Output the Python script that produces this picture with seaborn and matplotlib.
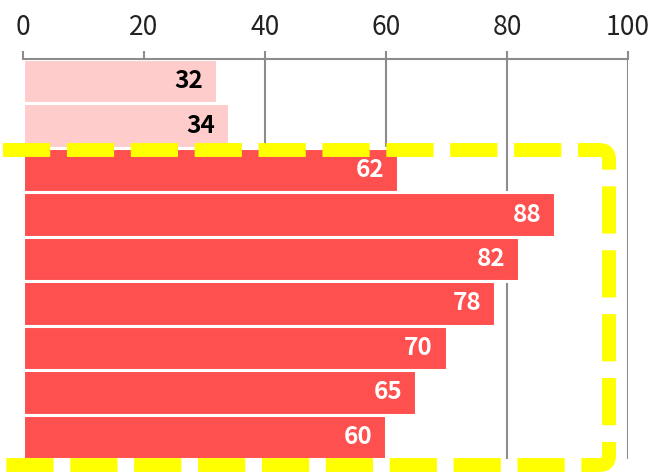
import seaborn as sns
import matplotlib.pyplot as plt
import numpy as np
import pandas as pd
from matplotlib.path import Path
from matplotlib.patches import PathPatch

# chart data (top to bottom)
categories = ["1", "2", "3", "4", "5", "6", "7", "8", "9"]
values = [32, 34, 62, 88, 82, 78, 70, 65, 60]
highlighted = [False, False, True, True, True, True, True, True, True]
x_ticks = [0, 20, 40, 60, 80, 100]

pink = "#FFCCCC"
red = "#FF5050"
colors = [red if h else pink for h in highlighted]
label_colors = ["white" if h else "black" for h in highlighted]

df = pd.DataFrame({"cat": categories, "val": values})

sns.set_theme(style="white")
plt.rcParams["font.family"] = ["Noto Sans CJK JP", "DejaVu Sans"]

fig = plt.figure(figsize=(6.59, 4.73), dpi=100)
ax = fig.add_axes([23 / 659, 14 / 473, 605 / 659, 400 / 473])

sns.barplot(data=df, x="val", y="cat", hue="cat", palette=colors, orient="h",
            width=1.0, saturation=1, legend=False, ax=ax, zorder=2,
            edgecolor="white", linewidth=2.2)

ax.set_xlim(0, 100)
ax.set_ylim(8.5, -0.5)
ax.set_xticks(x_ticks)
ax.xaxis.tick_top()
ax.tick_params(axis="x", top=True, bottom=False, length=6, width=1.5,
               color="#8c8c8c", labelsize=19, labelcolor="#222222", pad=7)
ax.set_yticks([])
ax.set_xlabel("")
ax.set_ylabel("")
ax.grid(axis="x", color="#8c8c8c", linewidth=1.5)
ax.set_axisbelow(True)
for side in ["left", "right", "bottom"]:
    ax.spines[side].set_visible(False)
ax.spines["top"].set_color("#8c8c8c")
ax.spines["top"].set_linewidth(1.5)

# value labels inside bar ends
for i, (v, c) in enumerate(zip(values, label_colors)):
    ax.annotate(str(v), xy=(v, i), xytext=(-10, 0), textcoords="offset points",
                ha="right", va="center", fontsize=17.5, fontweight="bold", color=c)

# yellow dashed highlight frame (figure inches, open on the left)
W, H = 6.59, 4.73
def px(x, y):
    return (x / 100, H - y / 100)

r = 9
left, right, top, bottom = 3, 609, 150, 465
verts = [px(left, top), px(right - r, top), px(right, top), px(right, top + r),
         px(right, bottom - r), px(right, bottom), px(right - r, bottom),
         px(left, bottom)]
codes = [Path.MOVETO, Path.LINETO, Path.CURVE3, Path.CURVE3,
         Path.LINETO, Path.CURVE3, Path.CURVE3, Path.LINETO]
frame = PathPatch(Path(verts, codes), transform=fig.dpi_scale_trans,
                  facecolor="none", edgecolor="#FFFF00", linewidth=10,
                  linestyle=(0, (3.4, 1.2)), capstyle="butt", joinstyle="round",
                  zorder=10)
fig.add_artist(frame)

fig.savefig("out.png", dpi=100)
